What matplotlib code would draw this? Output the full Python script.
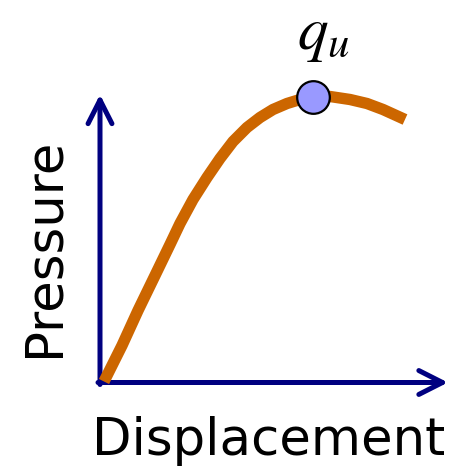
import matplotlib
matplotlib.use("Agg")
import matplotlib.pyplot as plt

# Curve data (schematic pressure vs displacement)
displacement = [4, 22, 38, 55, 70, 80, 93, 107, 120, 133, 147, 160, 173, 187,
                200, 213, 230, 250, 267, 283, 305]
pressure = [1, 37, 72, 107, 138, 159, 183, 205, 224, 241, 255, 265, 273, 279,
            283, 285, 286, 283, 279, 273, 263]
peak_disp = 213
peak_pres = 286
x_axis_end = 348
y_axis_end = 288
x_label = "Displacement"
y_label = "Pressure"
peak_label = r"$q_u$"

W, H = 454, 467
dpi = 100
fig = plt.figure(figsize=(W / dpi, H / dpi), dpi=dpi)
ax = fig.add_axes([0, 0, 1, 1])
ox, oy = 100, 382.5  # origin pixel
ax.set_xlim(-ox, W - ox)
ax.set_ylim(oy - H, oy)
ax.axis("off")

navy = "#000080"
orange = "#CC6600"

arrow_kw = dict(arrowstyle="->, head_length=0.85, head_width=0.43",
                color=navy, lw=3.6, mutation_scale=20,
                capstyle="round", joinstyle="round", shrinkA=0, shrinkB=0)
ax.annotate("", xy=(x_axis_end, 0), xytext=(-2, 0), arrowprops=arrow_kw)
ax.annotate("", xy=(0, y_axis_end), xytext=(0, -2), arrowprops=arrow_kw)

ax.plot(displacement, pressure, color=orange, lw=8.2, solid_capstyle="butt",
        solid_joinstyle="round", zorder=3)
ax.plot([peak_disp], [peak_pres], "o", ms=23.5, mfc="#9999FF", mec="black",
        mew=1.6, zorder=4)

ax.text(197, 334, peak_label, fontsize=44, ha="left", va="baseline",
        math_fontfamily="stix")
ax.text(168.5, -72.5, x_label, fontsize=37, ha="center", va="baseline",
        family="DejaVu Sans", color="black")
ax.text(-56, 135.5, y_label, fontsize=37, ha="center", va="center",
        rotation=90, family="DejaVu Sans", color="black")

fig.savefig("out.png", dpi=dpi)
